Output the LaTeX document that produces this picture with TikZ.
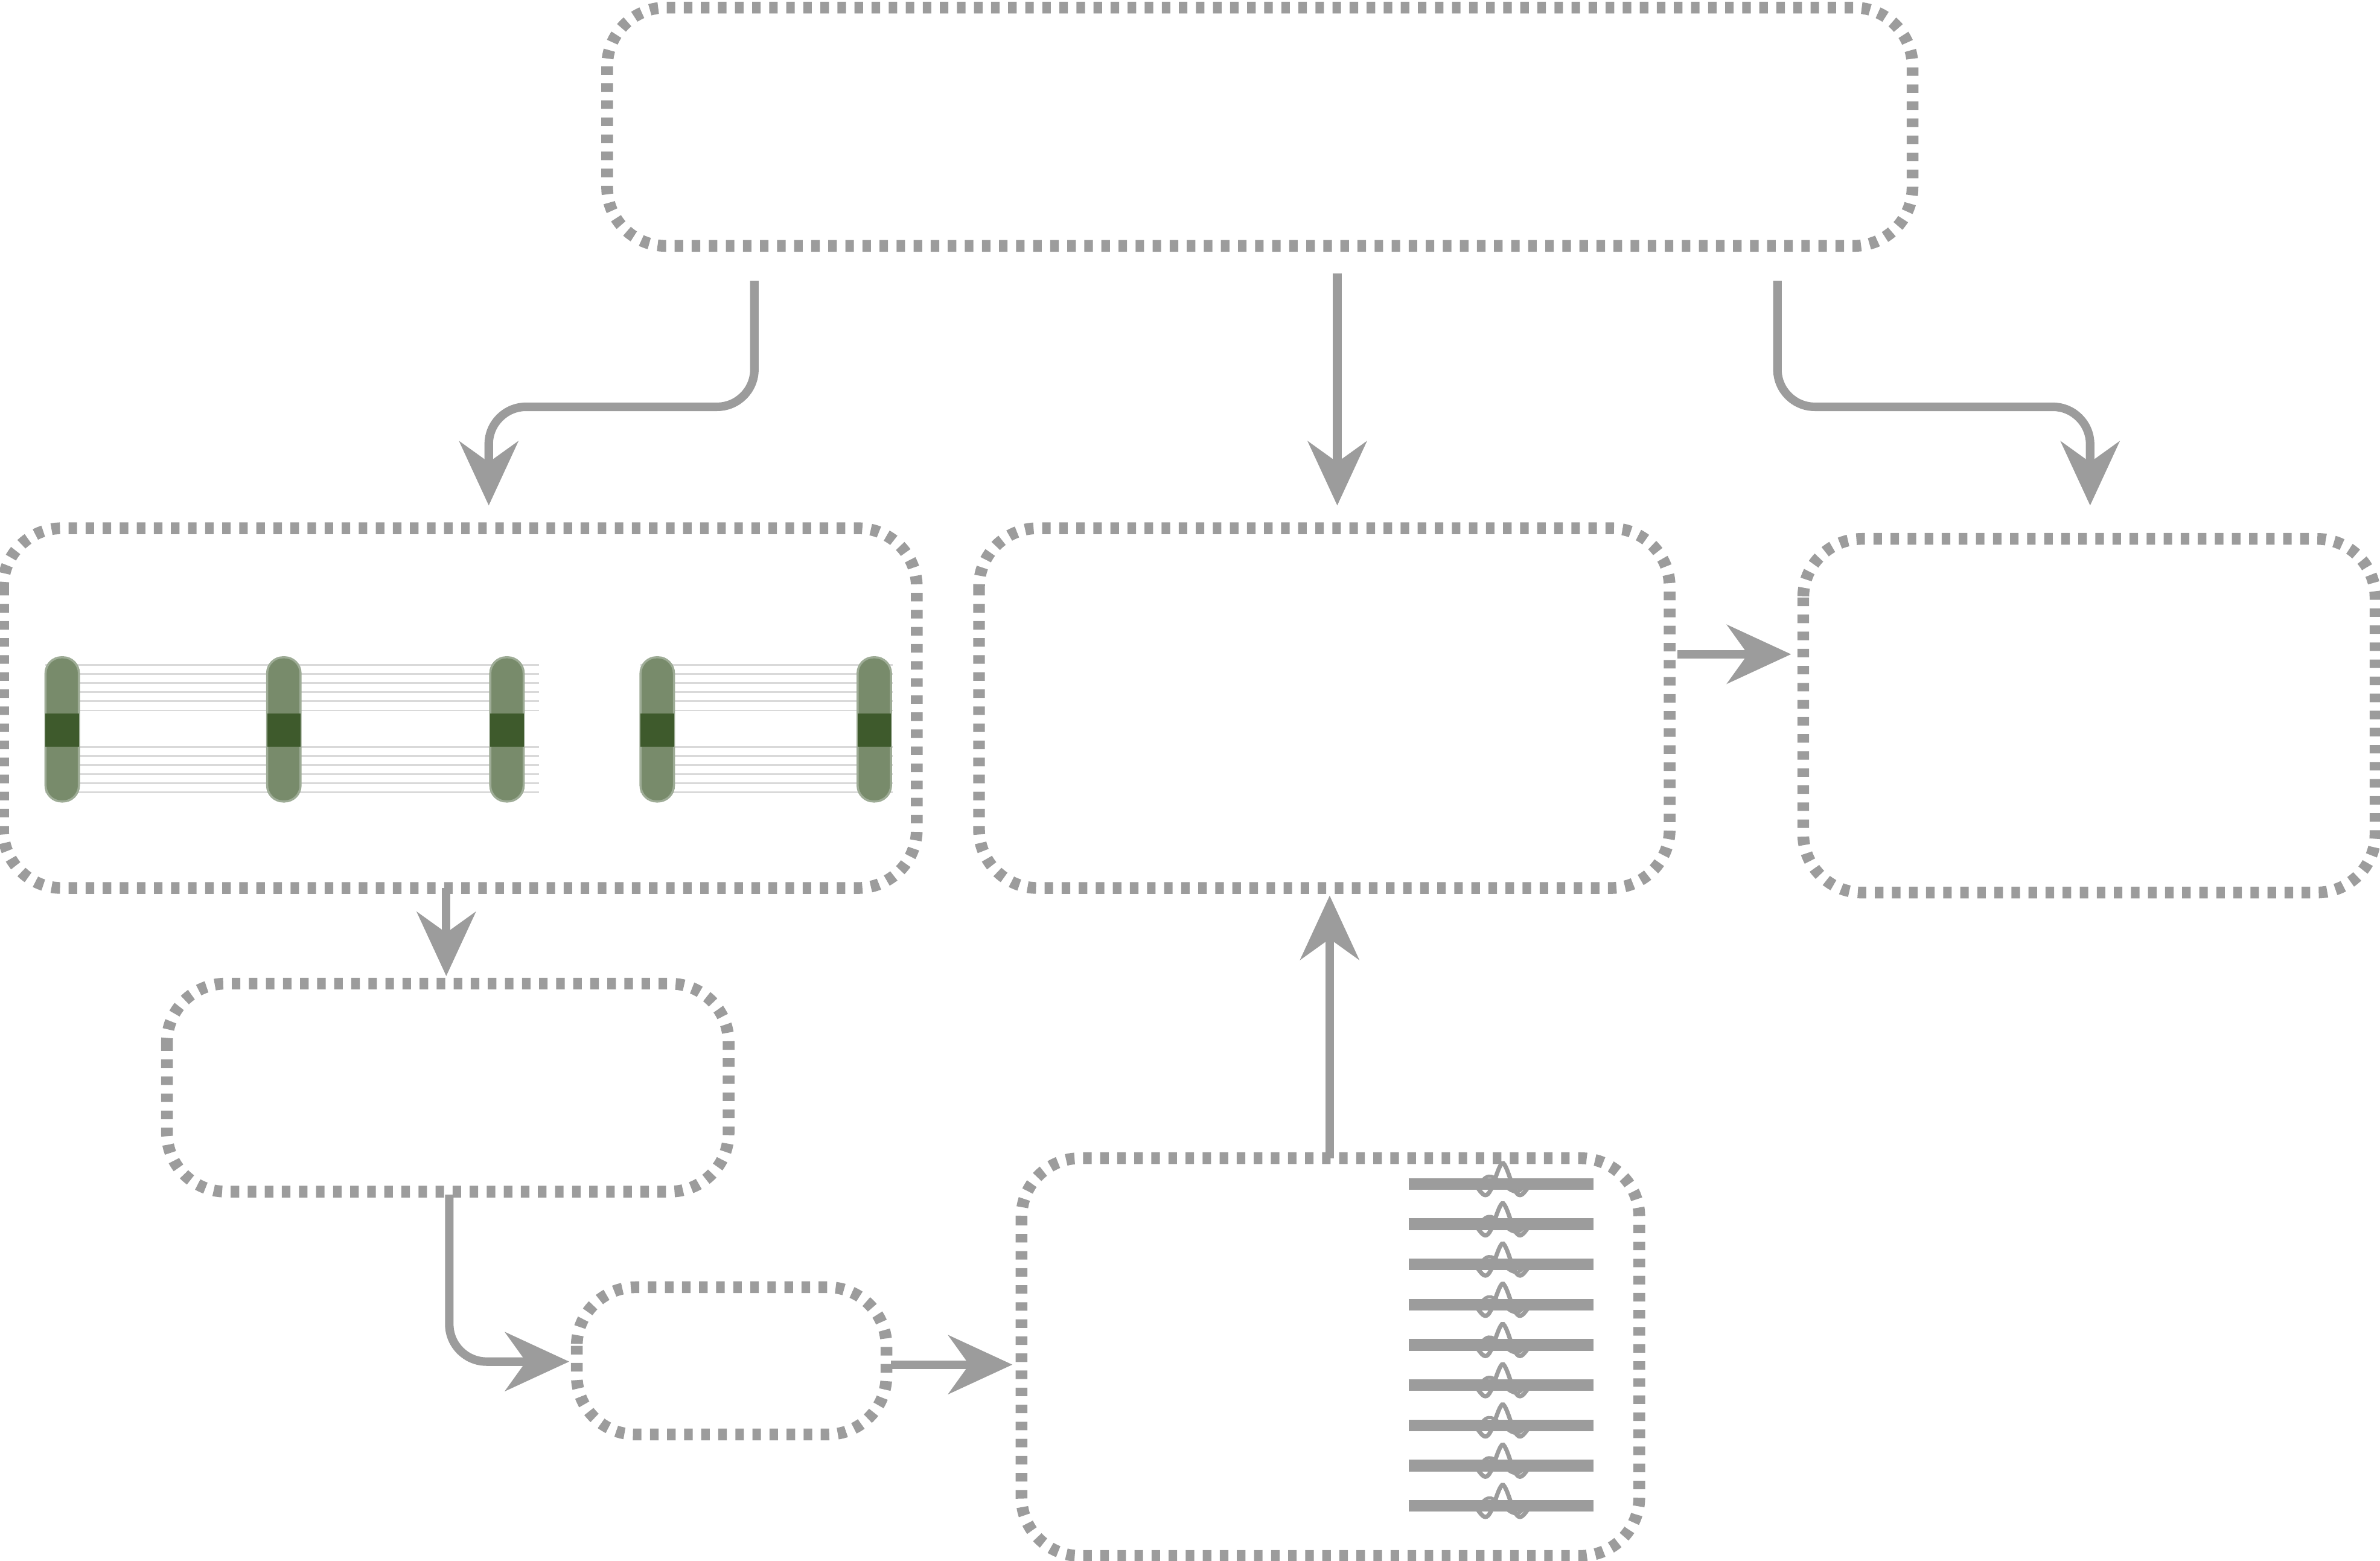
\documentclass[tikz,border=0pt]{standalone}
\usepackage{tikz}
\usetikzlibrary{arrows.meta,positioning,calc}
\definecolor{boxgray}{HTML}{9C9C9C}
\definecolor{elgreen}{HTML}{3E5A2C}
\tikzset{
  blk/.style={draw=boxgray,line width=2.2pt,dash pattern=on 1.6pt off 1.6pt,rounded corners=11pt},
  link/.style={draw=boxgray,line width=1.6pt,rounded corners=7pt,-{Stealth[length=12pt,width=11pt]}},
  elec/.style={fill=elgreen!70,draw=elgreen!50,rounded corners=3pt},
}
\begin{document}
\begin{tikzpicture}[x=1cm,y=-1cm]
\useasboundingbox (0,0) rectangle (15.68,10.28);
% boxes
\draw[blk] (4.00,0.05) rectangle (12.60,1.62);
\draw[blk] (0.02,3.48) rectangle (6.04,5.85);
\draw[blk] (6.45,3.48) rectangle (11.00,5.85);
\draw[blk] (11.88,3.55) rectangle (15.65,5.88);
\draw[blk] (1.10,6.48) rectangle (4.80,7.85);
\draw[blk] (3.80,8.48) rectangle (5.84,9.45);
\draw[blk] (6.73,7.63) rectangle (10.80,10.25);
% electrodes
\foreach \x/\w in {0.30/3.25,4.22/1.66} {
  \foreach \y in {4.38,4.44,...,4.70} \draw[gray!30,line width=0.3pt] (\x,\y) -- ++(\w,0);
  \foreach \y in {4.92,4.98,...,5.24} \draw[gray!30,line width=0.3pt] (\x,\y) -- ++(\w,0);
}
\foreach \x in {0.30,1.76,3.23,4.22,5.65} {
  \draw[elec] (\x,4.33) rectangle ++(0.22,0.95);
  \fill[elgreen] (\x,4.70) rectangle ++(0.22,0.22);
}
% waveforms
\foreach \i in {0,...,8} {
  \pgfmathsetmacro{\yy}{7.80+\i*0.265}
  \draw[boxgray,line width=2.2pt] (9.28,\yy) -- (10.50,\yy);
  \draw[boxgray,line width=0.8pt,domain=9.65:10.15,samples=60]
    plot (\x,{\yy-0.14*cos(720*(\x-9.9)/0.5)*(1-abs(\x-9.9)/0.25)});
  \draw[boxgray,line width=0.6pt] (9.75,\yy) .. controls (9.85,\yy-0.18) and (9.95,\yy+0.18) .. (10.05,\yy);
}
% connectors
\coordinate (t1) at (4.97,1.85); \coordinate (t2) at (8.81,1.80); \coordinate (t3) at (11.71,1.85);
\draw[link] (t1) |- (3.22,2.68) -- (3.22,3.33);
\draw[link] (t2) -- (8.81,3.33);
\draw[link] (t3) |- (13.77,2.68) -- (13.77,3.33);
\draw[link] (11.05,4.31) -- (11.80,4.31);
\draw[link] (2.94,5.85) -- (2.94,6.43);
\draw[link] (2.96,7.87) |- (3.75,8.97);
\draw[link] (5.87,8.99) -- (6.67,8.99);
\draw[link] (8.76,7.63) -- (8.76,5.90);
\end{tikzpicture}
\end{document}
